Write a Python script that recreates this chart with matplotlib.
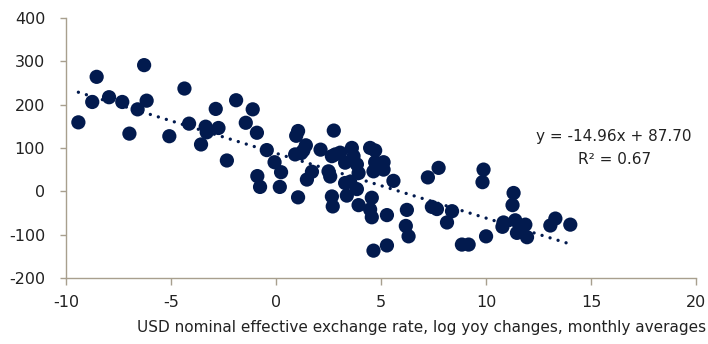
import matplotlib.pyplot as plt
import numpy as np

# USD NEER yoy change (x) vs y-variable
usd_neer = [-9.41, -8.75, -8.54, -7.95, -7.32, -6.98, -6.59, -6.28, -6.16, -5.08,
            -4.36, -4.14, -3.57, -3.35, -3.30, -2.87, -2.74, -2.34, -1.90, -1.44,
            -1.11, -0.91, -0.89, -0.76, -0.44, -0.07, 0.18, 0.24, 0.91, 0.96,
            1.05, 1.05, 1.20, 1.30, 1.42, 1.47, 1.71, 2.12, 2.50, 2.58,
            2.66, 2.66, 2.70, 2.75, 2.82, 3.05, 3.29, 3.29, 3.37, 3.53,
            3.61, 3.69, 3.85, 3.85, 3.93, 3.93, 4.48, 4.72, 4.48, 4.56,
            4.56, 4.64, 4.72, 5.12, 5.12, 5.28, 5.59, 4.64, 5.28, 6.23,
            6.18, 6.31, 7.23, 7.74, 7.42, 7.66, 8.14, 8.38, 8.85, 9.17,
            9.83, 9.88, 10.00, 10.78, 10.83, 11.26, 11.31, 11.39, 11.47, 11.87,
            11.95, 13.06, 13.30, 14.01]
y_vals = [159, 206, 264, 217, 206, 133, 189, 291, 209, 127,
          237, 156, 108, 149, 136, 190, 146, 71, 210, 158,
          189, 135, 35, 10, 95, 67, 10, 44, 85, 128,
          139, -14, 88, 94, 106, 27, 45, 96, 46, 34,
          81, -12, -35, 140, 85, 89, 66, 19, -10, 22,
          100, 81, 62, 5, 42, -32, 100, 94, -42, -15,
          -60, 46, 67, 67, 50, -55, 24, -137, -125, -43,
          -80, -104, 32, 54, -36, -41, -72, -46, -123, -123,
          21, 50, -104, -82, -72, -32, -4, -67, -96, -77,
          -106, -79, -63, -77]

slope = -14.96
intercept = 87.70
r2 = 0.67

navy = '#021a4e'
axis_col = '#a89f8e'
text_col = '#222222'

plt.rcParams['font.family'] = ['DejaVu Sans']
plt.rcParams['axes.unicode_minus'] = False
fig = plt.figure(figsize=(7.08, 3.44), dpi=100)
ax = fig.add_axes([0.0932, 0.192, 0.890, 0.756])

ax.scatter(usd_neer, y_vals, s=105, color=navy, edgecolors='none', zorder=3)

# linear trend line from the fitted equation
xs = np.array([min(usd_neer), max(usd_neer)])
ax.plot(xs, slope * xs + intercept, color=navy, lw=2.4,
        linestyle=(0, (0.01, 2.5)), dash_capstyle='round', zorder=2)

ax.set_xlim(-10, 20)
ax.set_ylim(-200, 400)
ax.set_xticks([-10, -5, 0, 5, 10, 15, 20])
ax.set_yticks([-200, -100, 0, 100, 200, 300, 400])

for s in ['top', 'right']:
    ax.spines[s].set_visible(False)
for s in ['left', 'bottom']:
    ax.spines[s].set_color(axis_col)
    ax.spines[s].set_linewidth(1.0)
ax.tick_params(axis='y', colors=axis_col, length=4, width=1.0, pad=11,
               labelcolor=text_col, labelsize=11.5)
ax.tick_params(axis='x', colors=axis_col, length=5, width=1.0, pad=7,
               labelcolor=text_col, labelsize=11.5)

ax.text(16.1, 126, f'y = {slope:.2f}x + {intercept:.2f}', ha='center', va='center',
        fontsize=11, color=text_col)
ax.text(16.1, 73, f'R² = {r2:.2f}', ha='center', va='center',
        fontsize=11, color=text_col)

fig.text(0.997, 0.025, 'USD nominal effective exchange rate, log yoy changes, monthly averages',
         ha='right', va='bottom', fontsize=11, color=text_col)

fig.savefig('out.png', dpi=100)
